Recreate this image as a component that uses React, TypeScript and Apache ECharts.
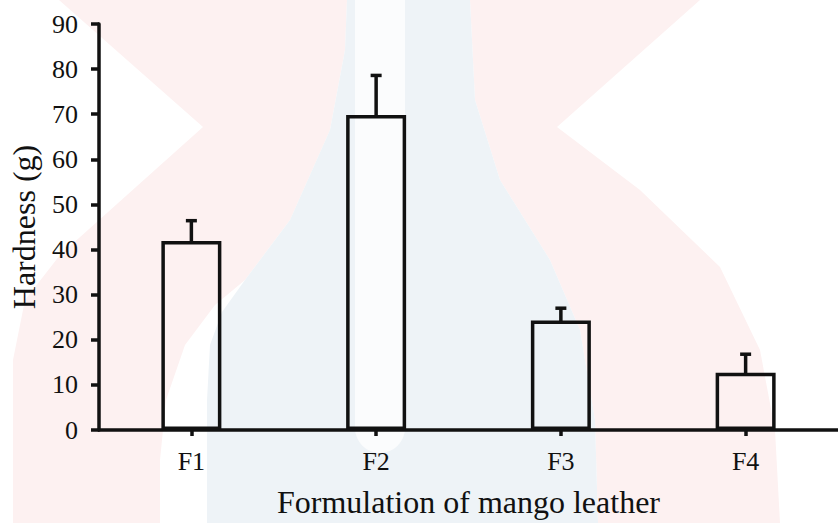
import React, { useEffect, useRef } from "react";
import * as echarts from "echarts";

// ---- data ----
const categories = ["F1", "F2", "F3", "F4"];
const hardness = [41.9, 69.8, 24.3, 12.7];
const hardnessErr = [4.5, 8.8, 2.7, 4.1];
const yMin = 0;
const yMax = 90;
const yStep = 10;

const xTitle = "Formulation of mango leather";
const yTitle = "Hardness (g)";

// faint background watermark (decoration only)
const PINK = "#fdf1f1";
const BLUE = "#eef3f7";
const pinkLeft = [
  [59, 0], [347, 0], [345, 50], [330, 130], [290, 220], [245, 280], [215, 305],
  [185, 345], [166, 400], [160, 460], [160, 523], [13, 523], [13, 360], [25, 300],
  [60, 255], [203, 127],
];
const blueMid = [
  [347, 0], [470, 0], [475, 100], [500, 180], [550, 260], [580, 330], [595, 420],
  [598, 523], [207, 523], [207, 400], [210, 345], [222, 312], [245, 280], [290, 220],
  [330, 130], [345, 50],
];
const pinkRight = [
  [470, 0], [700, 0], [557, 127], [640, 190], [720, 267], [760, 350], [775, 430],
  [780, 523], [598, 523], [595, 420], [580, 330], [550, 260], [500, 180], [475, 100],
];

const FONT = "'Liberation Serif', 'Times New Roman', serif";
const INK = "#111111";

export default function App() {
  const ref = useRef<HTMLDivElement>(null);

  useEffect(() => {
    if (!ref.current) return;
    const chart = echarts.init(ref.current, undefined, { renderer: "svg" });

    const errData = categories.map((_, i) => [i, hardness[i], hardnessErr[i]]);

    chart.setOption({
      animation: false,
      backgroundColor: "#ffffff",
      graphic: [
        { type: "polygon", z: -10, shape: { points: pinkLeft }, style: { fill: PINK } },
        { type: "polygon", z: -10, shape: { points: pinkRight }, style: { fill: PINK } },
        { type: "polygon", z: -9, shape: { points: blueMid }, style: { fill: BLUE } },
        {
          type: "rect",
          z: -8,
          shape: { x: 355, y: 0, width: 50, height: 453, r: [0, 0, 25, 25] },
          style: { fill: "#fbfcfd" },
        },
      ],
      grid: { left: 97, top: 24, width: 745, height: 409.3, containLabel: false },
      xAxis: {
        type: "category",
        data: categories,
        name: xTitle,
        nameLocation: "middle",
        nameGap: 56,
        nameTextStyle: { fontFamily: FONT, fontSize: 32, color: INK },
        axisLine: { show: true, lineStyle: { color: INK, width: 3.5 } },
        axisTick: { show: true, alignWithLabel: true, length: 6, lineStyle: { color: INK, width: 3.5 } },
        axisLabel: { fontFamily: FONT, fontSize: 26, color: INK, margin: 18 },
        splitLine: { show: false },
      },
      yAxis: {
        type: "value",
        min: yMin,
        max: yMax,
        interval: yStep,
        name: yTitle,
        nameLocation: "middle",
        nameGap: 59,
        nameTextStyle: { fontFamily: FONT, fontSize: 32, color: INK },
        axisLine: { show: true, lineStyle: { color: INK, width: 3.5 } },
        axisTick: { show: true, length: 8, lineStyle: { color: INK, width: 3.5 } },
        axisLabel: { fontFamily: FONT, fontSize: 26, color: INK, margin: 21 },
        splitLine: { show: false },
      },
      series: [
        {
          type: "bar",
          data: hardness,
          barWidth: 60,
          z: 3,
          itemStyle: { color: "rgba(255,255,255,0)", borderColor: INK, borderWidth: 3.5 },
        },
        {
          type: "custom",
          z: 4,
          data: errData,
          encode: { x: 0, y: 1 },
          renderItem: (params: any, api: any) => {
            const i = api.value(0);
            const v = api.value(1);
            const e = api.value(2);
            const base = api.coord([i, v]);
            const top = api.coord([i, v + e]);
            const half = 5.5;
            return {
              type: "group",
              children: [
                {
                  type: "line",
                  shape: { x1: base[0], y1: base[1] + 2, x2: top[0], y2: top[1] },
                  style: { stroke: INK, lineWidth: 3.5 },
                },
                {
                  type: "line",
                  shape: { x1: top[0] - half, y1: top[1], x2: top[0] + half, y2: top[1] },
                  style: { stroke: INK, lineWidth: 3.5 },
                },
              ],
            };
          },
        },
      ],
    });

    return () => chart.dispose();
  }, []);

  return (
    <div
      ref={ref}
      style={{ position: "fixed", left: 0, top: 0, width: 838, height: 523, background: "#fff" }}
    />
  );
}
